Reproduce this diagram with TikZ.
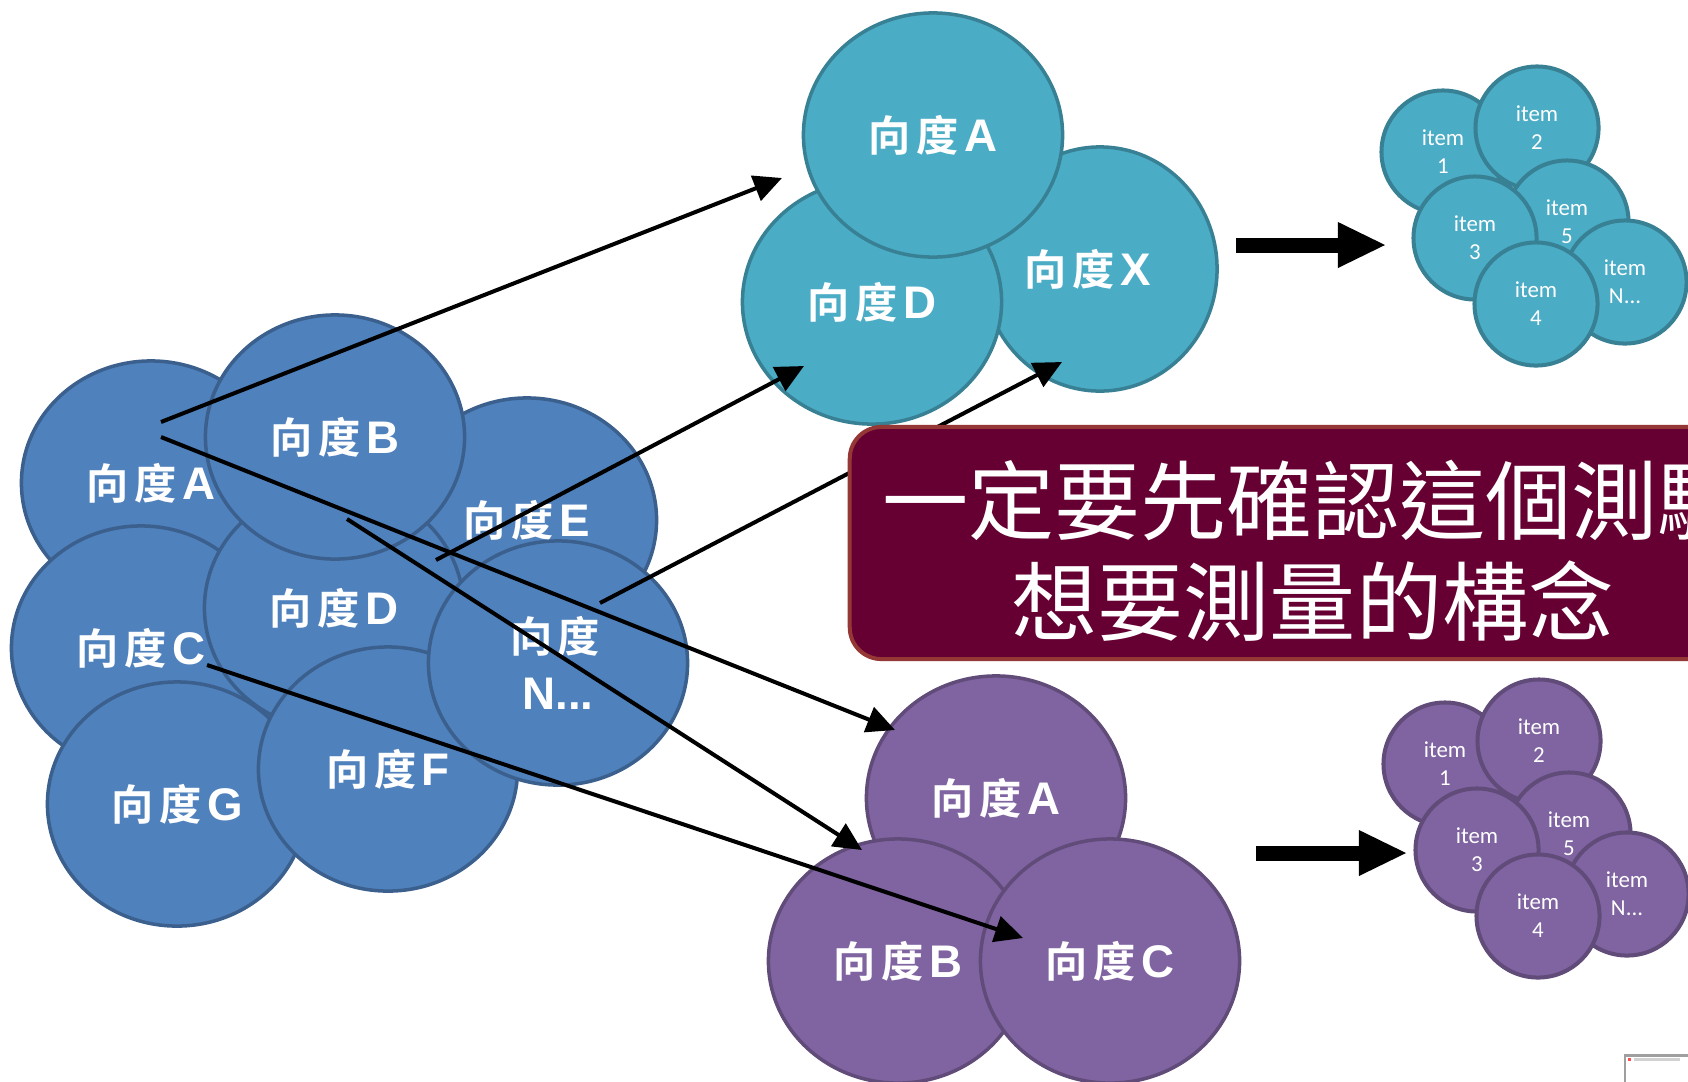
\documentclass[tikz,border=0pt]{standalone}
\usepackage{fontspec}
\usetikzlibrary{shapes.geometric,arrows.meta}
\newfontfamily\cjk{Noto Sans CJK TC}[BoldFont={Noto Sans CJK TC Bold}]
\newfontfamily\arialf{Liberation Sans}
\newfontfamily\calib{Carlito}
\definecolor{bfill}{HTML}{4F81BD}
\definecolor{bline}{HTML}{3B608D}
\definecolor{tfill}{HTML}{4BACC6}
\definecolor{tline}{HTML}{388194}
\definecolor{pfill}{HTML}{8064A2}
\definecolor{pline}{HTML}{604B79}
\definecolor{mfill}{HTML}{660033}
\definecolor{mline}{HTML}{953735}
\newcommand\xiangdu{{\cjk\bfseries\fontsize{12}{16.2}\selectfont 向\hspace{1.6pt}度\hspace{1.6pt}}}
\newcommand\dlab[1]{\xiangdu{\arialf\bfseries #1}}
\tikzset{
  dimbase/.style={ellipse, line width=1pt, minimum width=2.59cm, minimum height=2.44cm,
    inner sep=0pt, text=white, font=\fontsize{13}{16.2}\selectfont, align=center},
  bluedim/.style={dimbase, fill=bfill, draw=bline},
  tealdim/.style={dimbase, fill=tfill, draw=tline},
  purpdim/.style={dimbase, fill=pfill, draw=pline},
  itembase/.style={circle, line width=1.14pt, minimum size=1.23cm, inner sep=0pt,
    text=white, font=\calib\fontsize{6.5}{8}\selectfont, align=center},
  tealitem/.style={itembase, fill=tfill, draw=tline},
  purpitem/.style={itembase, fill=pfill, draw=pline},
  thinarrow/.style={line width=1.14pt, -{Triangle[length=8pt,width=7.5pt]}},
  blockarrow/.style={line width=4.27pt, -{Triangle[length=13.4pt,width=13.1pt,line width=0pt]}},
  msgbox/.style={rectangle, rounded corners=9pt, fill=mfill, draw=mline, line width=1.14pt,
    minimum width=9.26cm, minimum height=2.32cm},
  msgtext/.style={text=white, font=\cjk\fontsize{24.5}{28.7}\selectfont, align=center}
}
\begin{document}
\begin{tikzpicture}[x=0.01cm, y=-0.01cm]
\useasboundingbox (0,0) rectangle (1688,1081);
\clip (0,0) rectangle (1688,1081);
\fill[white] (0,0) rectangle (1688,1081);

% left cluster
\node[bluedim] (lA) at (151,483) {\dlab{A}};
\node[bluedim] (lC) at (141,648) {\dlab{C}};
\node[bluedim] (lE) at (527,520) {\dlab{E}};
\node[bluedim] (lD) at (334,608) {\dlab{D}};
\node[bluedim] (lB) at (335,437) {\dlab{B}};
\node[bluedim] (lG) at (177,804) {\dlab{G}};
\node[bluedim] (lF) at (388,769) {\dlab{F}};
\node[bluedim] (lN) at (558,663) {\xiangdu\hspace{-1.6pt}\\{\arialf\bfseries N...}};

% top teal cluster
\node[tealdim, minimum width=2.34cm] (tX) at (1100,269) {\dlab{X}\hspace{7pt}};
\node[tealdim] (tD) at (872,302) {\dlab{D}};
\node[tealdim] (tA) at (933,135) {\dlab{A}};

% bottom purple cluster
\node[purpdim] (pA) at (996,798) {\dlab{A}};
\node[purpdim] (pB) at (898,961) {\dlab{B}};
\node[purpdim] (pC) at (1110,961) {\dlab{C}};

% teal items
\node[tealitem] (ti1) at (1443,152) {item\\1};
\node[tealitem] (ti2) at (1537,128) {item\\2};
\node[tealitem] (ti5) at (1567,222) {item\\5};
\node[tealitem] (ti3) at (1475,238) {item\\3};
\node[tealitem] (tiN) at (1625,282) {item\\N...};
\node[tealitem] (ti4) at (1536,304) {item\\4};

% purple items
\node[purpitem] (pi1) at (1445,764) {item\\1};
\node[purpitem] (pi2) at (1539,741) {item\\2};
\node[purpitem] (pi5) at (1569,834) {item\\5};
\node[purpitem] (pi3) at (1477,850) {item\\3};
\node[purpitem] (piN) at (1627,894) {item\\N...};
\node[purpitem] (pi4) at (1538,916) {item\\4};

% block arrows
\coordinate (ba1s) at (1236,245);
\coordinate (ba1e) at (1385,245);
\coordinate (ba2s) at (1256,853);
\coordinate (ba2e) at (1406,853);
\draw[blockarrow] (ba1s) -- (ba1e);
\draw[blockarrow] (ba2s) -- (ba2e);

% thin arrows
\coordinate (s1) at (161,422);  \coordinate (e1) at (782,178);
\coordinate (s2) at (161,437);  \coordinate (e2) at (895,730);
\coordinate (s3) at (347,519);  \coordinate (e3) at (862,850);
\coordinate (s4) at (436,560);  \coordinate (e4) at (804,366);
\coordinate (s5) at (600,603);  \coordinate (e5) at (1062,362);
\coordinate (s6) at (207,665);  \coordinate (e6) at (1023,938);
\draw[thinarrow] (s1) -- (e1);
\draw[thinarrow] (s2) -- (e2);
\draw[thinarrow] (s3) -- (e3);
\draw[thinarrow] (s4) -- (e4);
\draw[thinarrow] (s5) -- (e5);
\draw[thinarrow] (s6) -- (e6);

% message box
\node[msgbox] (msg) at (1313,543) {};
\node[msgtext] (msgtxt) at (1313,551) {一定要先確認這個測驗\\想要測量的構念};

% thumbnail corner
\fill[white] (1625,1055) rectangle (1700,1090);
\draw[gray!75, line width=0.6pt] (1625,1090) -- (1625,1055.5) -- (1700,1055.5);
\fill[red!70] (1628,1058) rectangle (1631,1061);
\fill[gray!35] (1634,1058) rectangle (1680,1061);
\end{tikzpicture}
\end{document}
